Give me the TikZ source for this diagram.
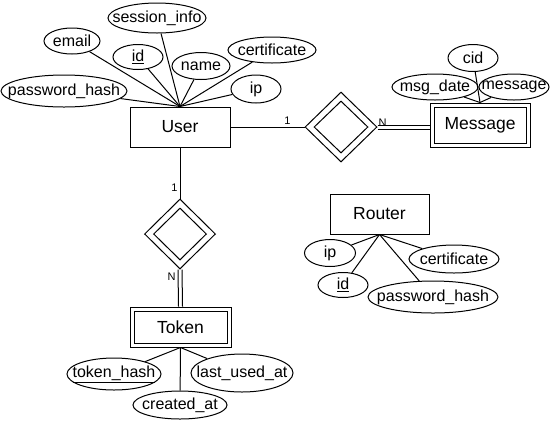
\documentclass[tikz,border=0pt]{standalone}
\usepackage{fontspec}
\setmainfont{Liberation Sans}
\usetikzlibrary{shapes.geometric}
\tikzset{
  attr/.style={ellipse, draw, inner sep=0pt, line width=1pt},
  entity/.style={rectangle, draw, line width=1pt, minimum width=100pt, minimum height=40pt, inner sep=0pt, font=\fontsize{17.5}{20}\selectfont},
  innerbox/.style={rectangle, draw, line width=1pt, inner sep=0pt},
  reldia/.style={diamond, draw, line width=1pt, inner sep=0pt},
  conn/.style={line width=1pt},
  card/.style={font=\fontsize{11}{13}\selectfont, inner sep=2pt},
  every label/.style={font=\fontsize{16}{19}\selectfont, inner sep=0pt}
}
\begin{document}
\begin{tikzpicture}[x=1pt, y=-1pt, font=\fontsize{16}{19}\selectfont]
\useasboundingbox (0,0) rectangle (553,424);

% Entities
\node[entity] (user) at (180,127) {User};
\node[entity, minimum width=99pt] (router) at (379.5,214) {Router};
\node[entity, minimum width=100pt, minimum height=44pt] (msg) at (480,125) {Message};
\node[innerbox, minimum width=92pt, minimum height=36pt] (msgin) at (480,125) {};
\node[entity, minimum width=101pt, minimum height=40pt] (token) at (180.5,327) {Token};
\node[innerbox, minimum width=93pt, minimum height=32pt] (tokenin) at (180.5,327) {};

% Relationships
\node[reldia, minimum width=72pt, minimum height=70pt] (rel1) at (341,127) {};
\node[reldia, minimum width=54pt, minimum height=52pt] (rel1in) at (341,127) {};
\node[reldia, minimum width=71pt, minimum height=70pt] (rel2) at (180,234) {};
\node[reldia, minimum width=53pt, minimum height=52pt] (rel2in) at (180,234) {};

% User attributes
\node[attr, minimum width=126pt, minimum height=32pt, label=center:{password\_hash}] (upw) at (64,91) {};
\node[attr, minimum width=56pt, minimum height=26pt, label=center:{email}] (uemail) at (72,41) {};
\node[attr, minimum width=50pt, minimum height=25pt, label=center:{\underline{id}}] (uid) at (138,57) {};
\node[attr, minimum width=98pt, minimum height=30pt, label=center:{session\_info}] (usess) at (157,18) {};
\node[attr, minimum width=58pt, minimum height=27pt, label=center:{name}] (uname) at (201,66) {};
\node[attr, minimum width=88pt, minimum height=26pt, label=center:{certificate}] (ucert) at (272,50) {};
\node[attr, minimum width=50pt, minimum height=28pt, label=center:{ip}] (uip) at (256,89) {};

\foreach \a in {upw,uemail,uid,usess,uname,ucert,uip}
  \draw[conn] (\a) -- (user.north);

% Message attributes
\node[attr, minimum width=50pt, minimum height=27pt, label=center:{cid}] (mcid) at (473,58) {};
\node[attr, minimum width=86pt, minimum height=26pt, label=center:{msg\_date}] (mdate) at (435,87) {};
\node[attr, minimum width=70pt, minimum height=26pt, label=center:{message}] (mmsg) at (514,87) {};
\foreach \a in {mcid,mdate,mmsg}
  \draw[conn] (\a) -- (msg.north);

% Token attributes
\node[attr, minimum width=94pt, minimum height=32pt, label=center:{\underline{token\_hash}}] (thash) at (114,374) {};
\node[attr, minimum width=102pt, minimum height=38pt, label=center:{last\_used\_at}] (tlast) at (242,373) {};
\node[attr, minimum width=94pt, minimum height=28pt, label=center:{created\_at}] (tcreated) at (180,405) {};
\foreach \a in {thash,tlast,tcreated}
  \draw[conn] (\a) -- (token.south);

% Router attributes
\node[attr, minimum width=51pt, minimum height=27pt, label=center:{ip}] (rip) at (330,253) {};
\node[attr, minimum width=50pt, minimum height=25pt, label=center:{\underline{id}}] (rid) at (343,285) {};
\node[attr, minimum width=90pt, minimum height=28pt, label=center:{certificate}] (rcert) at (454,259) {};
\node[attr, minimum width=130pt, minimum height=32pt, label=center:{password\_hash}] (rpw) at (433,297) {};
\foreach \a in {rip,rid,rcert,rpw}
  \draw[conn] (\a) -- (router.south);

% Relationship connectors
\draw[conn] (user.east) -- node[card, pos=0.77, above] {1} (rel1.west);
\draw[conn] ([yshift=-2pt]rel1.east) -- node[card, pos=0.1, above] {N} ([yshift=-2pt]rel1.east -| msg.west);
\draw[conn] ([yshift=2pt]rel1.east) -- ([yshift=2pt]rel1.east -| msg.west);
\draw[conn] (user.south) -- node[card, pos=0.79, left] {1} (rel2.north);
\draw[conn] ([xshift=-2pt]rel2.south) -- node[card, pos=0.2, left] {N} ([xshift=-2pt]token.north);
\draw[conn] ([xshift=2pt]rel2.south) -- ([xshift=2pt]token.north);
\end{tikzpicture}
\end{document}
